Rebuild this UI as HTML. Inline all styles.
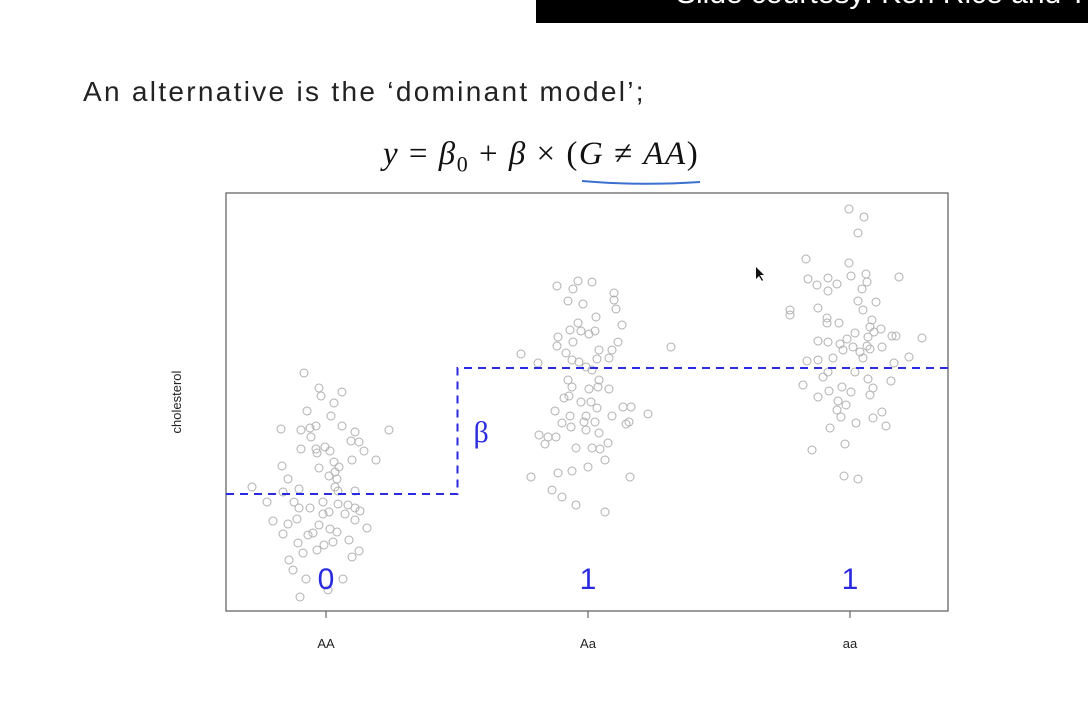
<!DOCTYPE html>
<html><head><meta charset="utf-8">
<style>
body{margin:0;width:1088px;height:708px;background:#fff;overflow:hidden;position:relative;font-family:"Liberation Sans",sans-serif;}
#bar{position:absolute;left:536px;top:0;width:552px;height:23px;background:#000;overflow:hidden;}
#bar span{position:absolute;left:140px;top:-23px;color:#fff;font-size:30px;white-space:nowrap;}
#title{position:absolute;left:83px;top:76px;font-size:28px;color:#222;white-space:nowrap;letter-spacing:2.3px}
#formula{position:absolute;left:383px;top:136px;font-family:"Liberation Serif",serif;font-size:33px;color:#111;white-space:nowrap;letter-spacing:1.5px}
</style></head><body>
<div id="bar"><span>Slide courtesy: Ken Rice and Thomas Lumley</span></div>
<div id="title">An alternative is the ‘dominant model’;</div>
<div id="formula"><i>y</i> = <i>β</i><sub style="font-size:22px">0</sub> + <i>β</i> × (<i>G</i> ≠ <i>AA</i>)</div>
<svg id="chart" width="1088" height="708" style="position:absolute;left:0;top:0"></svg>
<script>
const categories=["AA","Aa","aa"];
const codes=["0","1","1"];
const fitted=[306,432,432];
const jitter0=[-22,-7,-5,16,8,-19,5,-45,-25,-16,-10,-15,16,29,63,25,33,38,-25,-10,-1,4,-9,26,50,8,-44,-7,13,9,3,-38,11,-74,-27,9,12,29,-43,-59,-32,-27,-3,12,22,-16,29,34,-3,3,19,-53,29,-29,-38,-7,41,4,-43,-13,11,-18,23,-28,-2,7,-9,-23,33,26,-37,-33,-20,17,2,-26];
const values0=[427,412,404,408,397,389,384,371,370,372,374,363,374,368,370,359,358,349,351,351,353,349,347,340,340,338,334,332,333,328,324,321,321,313,311,313,309,309,308,298,298,292,298,296,295,292,292,289,286,288,286,279,280,281,276,275,272,271,266,267,268,265,260,257,255,258,250,247,249,243,240,230,221,221,210,203];
const jitter1=[-31,-10,4,-15,-20,-5,26,26,28,8,-10,-18,-7,7,34,-30,-15,1,30,-31,-22,11,24,21,-67,83,-50,-16,-9,9,-2,4,11,-20,-16,10,21,1,-19,-24,-7,3,-33,9,35,43,-18,24,60,-2,-26,-4,7,-17,38,41,-2,11,-49,-40,-32,-43,20,-12,4,12,17,0,-30,-16,-57,42,-36,-26,-12,17];
const values1=[514,519,518,511,499,496,507,500,491,483,477,470,469,469,475,463,458,466,458,454,447,450,450,442,446,453,437,440,438,441,433,430,420,420,413,413,411,411,404,402,398,398,389,392,393,393,384,384,386,384,377,378,378,373,376,378,370,367,365,363,363,356,357,352,352,351,340,333,327,329,323,323,310,303,295,288];
const jitter2=[-1,14,8,-44,-1,-42,-33,-22,-13,1,16,17,49,-22,12,8,26,-60,-60,-32,13,-23,-23,-11,22,20,31,24,5,42,46,72,18,-3,-32,-22,-10,3,17,32,-7,20,10,-17,13,59,-43,-32,44,5,-22,-27,41,-47,18,-8,-21,23,1,20,-32,-12,-4,-13,32,-9,23,6,36,-20,-5,-38,-6,8];
const values2=[591,583,567,541,537,521,515,522,516,524,526,518,523,509,511,499,498,490,485,492,490,482,477,477,480,473,471,468,467,464,464,462,463,461,459,458,456,453,454,453,450,451,448,442,442,443,439,440,437,428,428,423,419,415,421,413,409,412,408,405,403,399,395,390,388,383,382,377,374,372,356,350,324,321];
const jitters=[jitter0,jitter1,jitter2];
const valuesAll=[values0,values1,values2];

const NS="http://www.w3.org/2000/svg";
const svg=document.getElementById('chart');
const P={l:226,t:193,r:948,b:611};
const yMin=189,yMax=607;
function yScale(v){return P.b-(v-yMin)/(yMax-yMin)*(P.b-P.t);}
function xCat(i){return 326+i*262;}
function xScale(i,j){return xCat(i)+j/262*262;}
function mk(tag,attrs){const e=document.createElementNS(NS,tag);for(const k in attrs)e.setAttribute(k,attrs[k]);svg.appendChild(e);return e;}

let f=mk('rect',{x:P.l,y:P.t,width:P.r-P.l,height:P.b-P.t,fill:'none',stroke:'#666','stroke-width':1.3});



valuesAll.forEach((vals,g)=>{
  vals.forEach((v,k)=>{
    const c=mk('circle',{cx:xScale(g,jitters[g][k]),cy:yScale(v),r:4,fill:'none',stroke:'#b0b0b0','stroke-width':1});
    
    
  });
});

const split=(xCat(0)+xCat(1))/2+0.5;
let d='M'+P.l+','+yScale(fitted[0])+' L'+split+','+yScale(fitted[0])+' L'+split+','+yScale(fitted[1])+' L'+P.r+','+yScale(fitted[2]);
let ln=mk('path',{d:d,fill:'none',stroke:'#2a2ae0','stroke-width':2,'stroke-dasharray':'8,6'});



let beta=mk('text',{x:split+16,y:(yScale(fitted[0])+yScale(fitted[1]))/2+11,fill:'#2a2ae0','font-size':30,'font-family':'Liberation Serif, serif'});
beta.textContent='β';



categories.forEach((c,i)=>{
  const x=xCat(i);
  let t=mk('line',{x1:x,x2:x,y1:P.b,y2:P.b+7,stroke:'#666','stroke-width':1.2});
  
  
  let lb=mk('text',{x:x,y:648,'text-anchor':'middle','font-size':13,fill:'#222'});
  lb.textContent=c;
  
  
  let cd=mk('text',{x:x,y:589,'text-anchor':'middle','font-size':30,fill:'#2a2ae0'});
  cd.textContent=codes[i];
  
  
});

let yl=mk('text',{x:0,y:0,transform:'translate(181,402) rotate(-90)','text-anchor':'middle','font-size':13,fill:'#222'});
yl.textContent='cholesterol';



let ul=mk('path',{d:'M582,181 Q640,186 700,182',fill:'none',stroke:'#3b6fd0','stroke-width':2});



let cur=mk('path',{d:'M756,267 L756,279 L759,276 L762,281 L763,280 L760,275 L764,275 Z',fill:'#111'});


</script>
</body></html>
